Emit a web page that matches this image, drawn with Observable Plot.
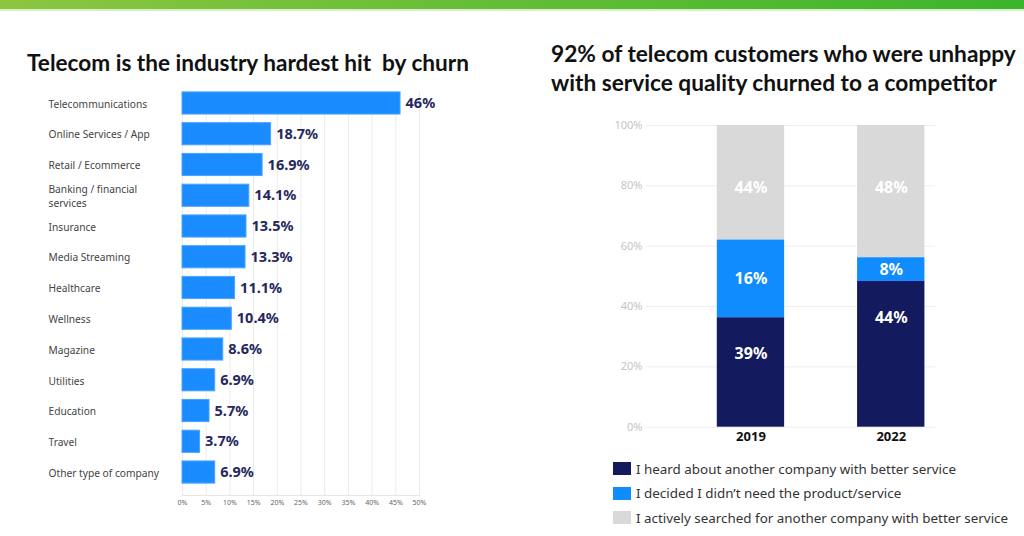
<!DOCTYPE html>
<html><head><meta charset="utf-8">
<script src="https://cdn.jsdelivr.net/npm/d3@7"></script>
<script src="https://cdn.jsdelivr.net/npm/@observablehq/plot@0.6"></script>
<style>
body{margin:0;width:1024px;height:536px;position:relative;background:#fff;overflow:hidden;font-family:"Noto Sans",sans-serif;}
#topbar{position:absolute;left:0;top:0;width:1024px;height:9px;background:linear-gradient(90deg,#8cc63f,#3cb42d);}
#topline{position:absolute;left:0;top:9px;width:1024px;height:2px;background:#d8f0c8;}
.title{position:absolute;font-family:Lato,sans-serif;font-weight:700;color:#111;white-space:nowrap;}
#t1{left:27px;top:50px;font-size:22.6px;line-height:26px;}
#t2{left:551px;top:38.5px;font-size:22.7px;line-height:29px;}
#c1{position:absolute;left:0;top:80px;}
#c2{position:absolute;left:590px;top:110px;}
#legend{position:absolute;left:613px;top:456.5px;}
.item{display:flex;align-items:center;height:24.5px;font-size:13.4px;color:#333;white-space:nowrap;}
.sw{width:18px;height:13px;margin-right:5px;flex:none;}
</style>
</head><body>
<div id="topbar"></div><div id="topline"></div>
<div class="title" id="t1">Telecom is the industry hardest hit&nbsp; by churn</div>
<div class="title" id="t2">92% of telecom customers who were unhappy<br>with service quality churned to a competitor</div>
<div id="c1"></div>
<div id="c2"></div>
<div id="legend"></div>
<script>
// Left chart data
const categories = ["Telecommunications","Online Services / App","Retail / Ecommerce","Banking / financial services","Insurance","Media Streaming","Healthcare","Wellness","Magazine","Utilities","Education","Travel","Other type of company"];
const churnRates = [46, 18.7, 16.9, 14.1, 13.5, 13.3, 11.1, 10.4, 8.6, 6.9, 5.7, 3.7, 6.9];
const xTicks = [0, 5, 10, 15, 20, 25, 30, 35, 40, 45, 50];

// Right chart data
const years = ["2019", "2022"];
const reasons = ["I heard about another company with better service", "I decided I didn’t need the product/service", "I actively searched for another company with better service"];
const reasonColors = ["#131b5e", "#108cff", "#d9d9d9"];
const heights2019 = [36.3, 25.8, 37.9];   // segment heights as drawn
const heights2022 = [48.3, 7.9, 43.8];
const labels2019 = ["39%", "16%", "44%"]; // printed labels
const labels2022 = ["44%", "8%", "48%"];
const yTicks = [0, 20, 40, 60, 80, 100];

const rows = categories.map((c, i) => ({category: c, value: churnRates[i]}));

const left = Plot.plot({
  width: 520, height: 430,
  marginLeft: 182, marginRight: 101, marginTop: 11.9, marginBottom: 15,
  x: {domain: [0, 50], label: null},
  y: {domain: categories, paddingInner: 0.28, paddingOuter: 0, insetBottom: 11.9, round: false, label: null},
  style: {fontFamily: "'Noto Sans', sans-serif", background: "transparent"},
  marks: [
    Plot.gridX(xTicks, {stroke: "#ebebeb", strokeOpacity: 1}),
    Plot.frame({anchor: "bottom", stroke: "#e6e6e6"}),
    Plot.axisX(xTicks, {label: null, tickSize: 0, tickPadding: 5, fontSize: 7, fill: "#666", tickFormat: d => d + "%"}),
    Plot.axisY({label: null, tickSize: 0, tickPadding: 0, textAnchor: "start", dx: -134, fontSize: 10.2, fill: "#444", lineWidth: 13, lineHeight: 1.3}),
    Plot.barX(rows, {x: "value", y: "category", fill: "#1a8cff", stroke: "#4aa3ff", strokeWidth: 1}),
    Plot.text(rows, {x: "value", y: "category", text: d => d.value + "%", textAnchor: "start", dx: 5, fontSize: 14.5, fontWeight: 700, fill: "#24285e"})
  ]
});
document.getElementById("c1").append(left);

const stackRows = [];
years.forEach((yr, i) => {
  const h = i ? heights2022 : heights2019;
  const l = i ? labels2022 : labels2019;
  reasons.forEach((r, j) => stackRows.push({year: yr, reason: r, value: h[j], label: l[j]}));
});

const right = Plot.plot({
  width: 400, height: 340,
  marginLeft: 56, marginRight: 55, marginTop: 15, marginBottom: 23.3,
  x: {domain: years, paddingInner: 0.52, paddingOuter: 0.29, align: 0.87, round: false, label: null},
  y: {domain: [0, 100], label: null},
  color: {domain: reasons, range: reasonColors},
  style: {fontFamily: "'Noto Sans', sans-serif", background: "transparent"},
  marks: [
    Plot.gridY(yTicks, {stroke: "#eeeeee", strokeOpacity: 1}),
    Plot.axisY(yTicks, {label: null, tickSize: 0, tickPadding: 4, tickFormat: d => d + "%", fontSize: 11, fill: "#c4c4c4"}),
    Plot.axisX({label: null, tickSize: 0, tickPadding: 5, fontSize: 13, fontWeight: 700, fill: "#111"}),
    Plot.barY(stackRows, {x: "year", y: "value", z: "reason", fill: "reason"}),
    Plot.text(stackRows, Plot.stackY2({x: "year", y: "value", z: "reason", text: d => d.reason === reasons[0] ? d.label : null, dy: 36, fill: "white", fontSize: 16, fontWeight: 700})),
    Plot.text(stackRows, Plot.stackY({x: "year", y: "value", z: "reason", text: d => d.reason === reasons[1] ? d.label : null, fill: "white", fontSize: 16, fontWeight: 700})),
    Plot.text(stackRows, Plot.stackY2({x: "year", y: "value", z: "reason", text: d => d.reason === reasons[2] ? d.label : null, dy: 62, fill: "white", fontSize: 16, fontWeight: 700}))
  ]
});
document.getElementById("c2").append(right);

const lg = document.getElementById("legend");
reasons.forEach((r, i) => {
  const it = document.createElement("div"); it.className = "item";
  const sw = document.createElement("div"); sw.className = "sw"; sw.style.background = reasonColors[i];
  const tx = document.createElement("span"); tx.textContent = r;
  it.append(sw, tx); lg.append(it);
});
</script>
</body></html>
